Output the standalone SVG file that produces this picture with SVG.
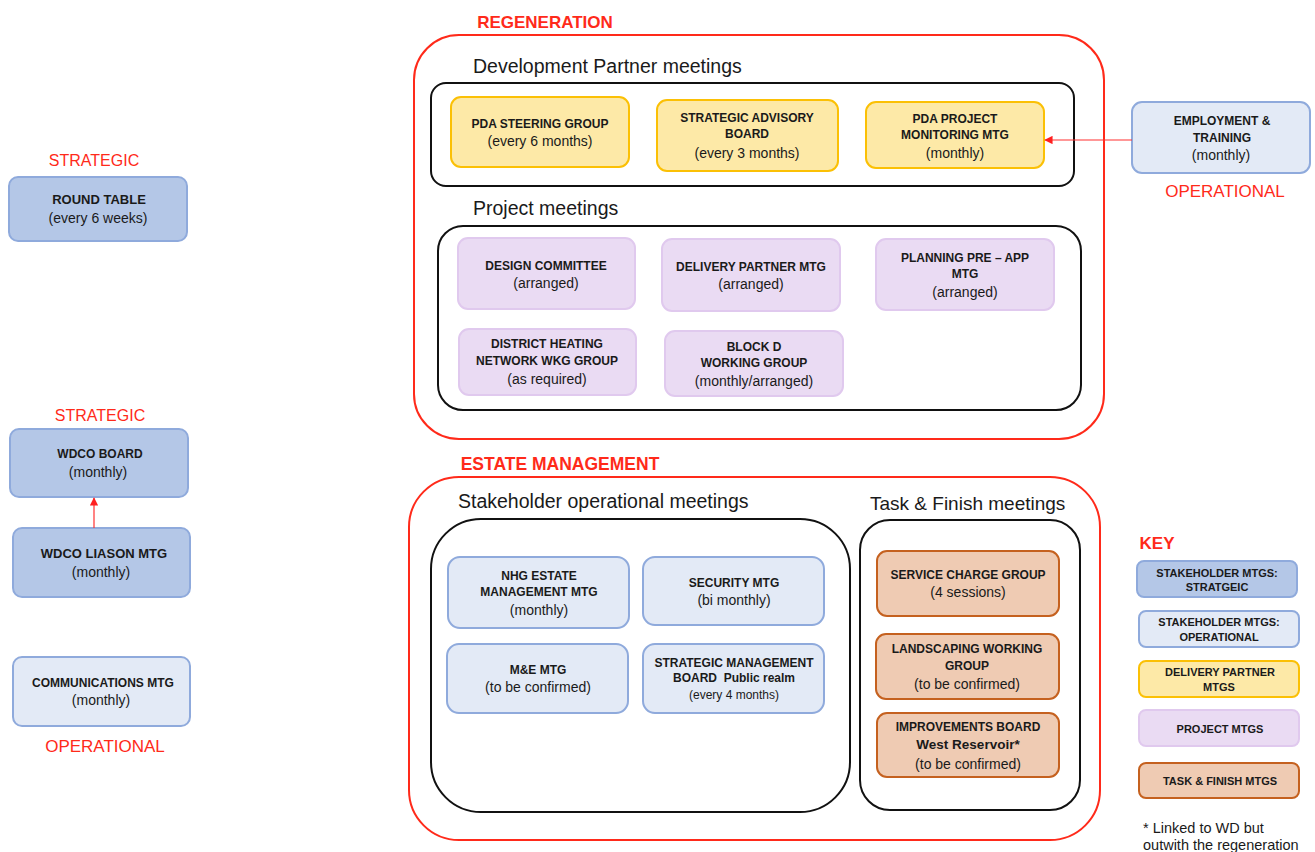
<svg xmlns="http://www.w3.org/2000/svg" width="1315" height="852" viewBox="0 0 1315 852">
  <style>
    text { font-family: "Liberation Sans", Arial, sans-serif; fill: #1a1a1a; text-anchor: middle; }
    .t { font-weight: bold; font-size: 12px; }
    .s { font-size: 14px; }
    .red { fill: #ff2a1a; }
    .sec { font-size: 19.5px; text-anchor: start; }
    .strat { fill: #b4c7e7; stroke: #8faadc; stroke-width: 2; }
    .oper { fill: #e3eaf6; stroke: #8faadc; stroke-width: 2; }
    .deliv { fill: #fde9a7; stroke: #fbc005; stroke-width: 2; }
    .proj { fill: #eadbf3; stroke: #e0c9ee; stroke-width: 2; }
    .task { fill: #efcbb3; stroke: #c5611f; stroke-width: 2; }
    .frame { fill: none; stroke: #ff2a1a; stroke-width: 2; }
    .group { fill: #ffffff; stroke: #111111; stroke-width: 2; }
    .link { stroke: #ff3030; stroke-width: 1.2; fill: none; }
  </style>
  <defs>
    <marker id="arrow" viewBox="0 0 10 10" refX="9" refY="5" markerWidth="7" markerHeight="7" orient="auto">
      <path d="M0,0 L10,5 L0,10 z" fill="#ff2020"/>
    </marker>
  </defs>

  <rect x="0" y="0" width="1315" height="852" fill="#ffffff"/>

  <!-- Section frames and headings -->
  <g id="regeneration">
    <text x="545" y="28" class="red" style="font-weight:bold;font-size:17px">REGENERATION</text>
    <rect x="414" y="35" width="690" height="404" rx="45" class="frame"/>
    <text x="473" y="73" class="sec">Development Partner meetings</text>
    <rect x="431" y="83" width="643" height="103" rx="15" class="group"/>
    <text x="473" y="215" class="sec">Project meetings</text>
    <rect x="438" y="226" width="643" height="184" rx="25" class="group"/>
  </g>

  <g id="estate-management">
    <text x="560" y="470" class="red" style="font-weight:bold;font-size:17.5px">ESTATE MANAGEMENT</text>
    <rect x="409" y="477" width="691" height="363" rx="50" class="frame"/>
    <text x="458" y="508" class="sec">Stakeholder operational meetings</text>
    <rect x="431" y="519" width="419" height="293" rx="50" class="group"/>
    <text x="870" y="510" class="sec" style="font-size:19px">Task &amp; Finish meetings</text>
    <rect x="860" y="520" width="220" height="290" rx="30" class="group"/>
  </g>

  <!-- Left column: stakeholder meetings -->
  <g id="round-table">
    <text x="94" y="166" class="red" style="font-size:16px">STRATEGIC</text>
    <rect x="9" y="177" width="178" height="64" rx="9" class="strat"/>
    <text x="99" y="204" class="t" style="font-size:13px">ROUND TABLE</text>
    <text x="98" y="223" class="s">(every 6 weeks)</text>
  </g>

  <g id="wdco-board">
    <text x="100" y="421" class="red" style="font-size:16px">STRATEGIC</text>
    <rect x="10" y="429" width="178" height="68" rx="9" class="strat"/>
    <text x="100" y="458" class="t">WDCO BOARD</text>
    <text x="98" y="477" class="s">(monthly)</text>
  </g>

  <g id="wdco-liason">
    <rect x="13" y="528" width="177" height="69" rx="9" class="strat"/>
    <text x="104" y="558" class="t" style="font-size:13px">WDCO LIASON MTG</text>
    <text x="101" y="577" class="s">(monthly)</text>
  </g>

  <g id="communications">
    <rect x="13" y="657" width="177" height="69" rx="9" class="oper"/>
    <text x="103" y="687" class="t">COMMUNICATIONS MTG</text>
    <text x="101" y="705" class="s">(monthly)</text>
    <text x="105" y="752" class="red" style="font-size:17px">OPERATIONAL</text>
  </g>

  <!-- Development partner meetings -->
  <g id="pda-steering">
    <rect x="451" y="97" width="178" height="70" rx="10" class="deliv"/>
    <text x="540" y="128" class="t">PDA STEERING GROUP</text>
    <text x="540" y="146" class="s">(every 6 months)</text>
  </g>
  <g id="strategic-advisory">
    <rect x="657" y="100" width="181" height="71" rx="10" class="deliv"/>
    <text x="747" y="122" class="t">STRATEGIC ADVISORY</text>
    <text x="747" y="138" class="t">BOARD</text>
    <text x="747" y="158" class="s">(every 3 months)</text>
  </g>
  <g id="pda-monitoring">
    <rect x="866" y="102" width="178" height="66" rx="10" class="deliv"/>
    <text x="955" y="123" class="t">PDA PROJECT</text>
    <text x="955" y="139" class="t">MONITORING MTG</text>
    <text x="955" y="158" class="s">(monthly)</text>
  </g>

  <g id="employment-training">
    <rect x="1132" y="102" width="178" height="71" rx="10" class="oper"/>
    <text x="1222" y="125" class="t">EMPLOYMENT &amp;</text>
    <text x="1222" y="142" class="t">TRAINING</text>
    <text x="1221" y="160" class="s">(monthly)</text>
    <text x="1225" y="197" class="red" style="font-size:17px">OPERATIONAL</text>
  </g>

  <!-- Project meetings -->
  <g id="design-committee">
    <rect x="458" y="238" width="177" height="71" rx="10" class="proj"/>
    <text x="546" y="270" class="t">DESIGN COMMITTEE</text>
    <text x="546" y="288" class="s">(arranged)</text>
  </g>
  <g id="delivery-partner">
    <rect x="662" y="239" width="178" height="72" rx="10" class="proj"/>
    <text x="751" y="271" class="t">DELIVERY PARTNER MTG</text>
    <text x="751" y="289" class="s">(arranged)</text>
  </g>
  <g id="planning-pre-app">
    <rect x="876" y="239" width="178" height="71" rx="10" class="proj"/>
    <text x="965" y="262" class="t">PLANNING PRE – APP</text>
    <text x="965" y="278" class="t">MTG</text>
    <text x="965" y="297" class="s">(arranged)</text>
  </g>
  <g id="district-heating">
    <rect x="459" y="329" width="177" height="66" rx="10" class="proj"/>
    <text x="547" y="348" class="t">DISTRICT HEATING</text>
    <text x="547" y="365" class="t">NETWORK WKG GROUP</text>
    <text x="547" y="384" class="s">(as required)</text>
  </g>
  <g id="block-d">
    <rect x="665" y="331" width="178" height="65" rx="10" class="proj"/>
    <text x="754" y="351" class="t">BLOCK D</text>
    <text x="754" y="367" class="t">WORKING GROUP</text>
    <text x="754" y="386" class="s">(monthly/arranged)</text>
  </g>

  <!-- Stakeholder operational meetings -->
  <g id="nhg-estate">
    <rect x="448" y="557" width="181" height="71" rx="12" class="oper"/>
    <text x="539" y="580" class="t">NHG ESTATE</text>
    <text x="539" y="596" class="t">MANAGEMENT MTG</text>
    <text x="539" y="615" class="s">(monthly)</text>
  </g>
  <g id="security">
    <rect x="643" y="557" width="181" height="68" rx="12" class="oper"/>
    <text x="734" y="587" class="t">SECURITY MTG</text>
    <text x="734" y="605" class="s">(bi monthly)</text>
  </g>
  <g id="m-and-e">
    <rect x="447" y="644" width="181" height="69" rx="12" class="oper"/>
    <text x="538" y="674" class="t">M&amp;E MTG</text>
    <text x="538" y="692" class="s">(to be confirmed)</text>
  </g>
  <g id="strategic-management">
    <rect x="643" y="644" width="181" height="69" rx="12" class="oper"/>
    <text x="734" y="667" class="t">STRATEGIC MANAGEMENT</text>
    <text x="734" y="682" class="t" xml:space="preserve">BOARD  Public realm</text>
    <text x="734" y="699" style="font-size:12px">(every 4 months)</text>
  </g>

  <!-- Task & finish meetings -->
  <g id="service-charge">
    <rect x="877" y="551" width="182" height="65" rx="10" class="task"/>
    <text x="968" y="579" class="t">SERVICE CHARGE GROUP</text>
    <text x="968" y="597" class="s">(4 sessions)</text>
  </g>
  <g id="landscaping">
    <rect x="876" y="634" width="183" height="65" rx="10" class="task"/>
    <text x="967" y="653" class="t">LANDSCAPING WORKING</text>
    <text x="967" y="670" class="t">GROUP</text>
    <text x="967" y="689" class="s">(to be confirmed)</text>
  </g>
  <g id="improvements-board">
    <rect x="877" y="713" width="182" height="64" rx="10" class="task"/>
    <text x="968" y="731" class="t">IMPROVEMENTS BOARD</text>
    <text x="968" y="749" class="t" style="font-size:13.5px">West Reservoir*</text>
    <text x="968" y="769" class="s">(to be confirmed)</text>
  </g>

  <!-- Key -->
  <g id="key">
    <text x="1157" y="549" class="red" style="font-weight:bold;font-size:17px">KEY</text>
    <rect x="1137" y="561" width="160" height="36" rx="7" class="strat"/>
    <text x="1217" y="577" class="t" style="font-size:11px">STAKEHOLDER MTGS:</text>
    <text x="1217" y="591" class="t" style="font-size:11px">STRATGEIC</text>
    <rect x="1139" y="611" width="160" height="36" rx="7" class="oper"/>
    <text x="1219" y="626" class="t" style="font-size:11px">STAKEHOLDER MTGS:</text>
    <text x="1219" y="641" class="t" style="font-size:11px">OPERATIONAL</text>
    <rect x="1139" y="661" width="160" height="36" rx="7" class="deliv"/>
    <text x="1220" y="676" class="t" style="font-size:11px">DELIVERY PARTNER</text>
    <text x="1219" y="691" class="t" style="font-size:11px">MTGS</text>
    <rect x="1139" y="710" width="160" height="36" rx="7" class="proj"/>
    <text x="1220" y="733" class="t" style="font-size:11px">PROJECT MTGS</text>
    <rect x="1139" y="763" width="160" height="35" rx="7" class="task"/>
    <text x="1220" y="785" class="t" style="font-size:11px">TASK &amp; FINISH MTGS</text>
    <text x="1143" y="833" style="font-size:14.5px;text-anchor:start">* Linked to WD but</text>
    <text x="1143" y="850" style="font-size:14.5px;text-anchor:start">outwith the regeneration</text>
  </g>

  <!-- Connectors -->
  <g id="connectors">
    <line x1="94" y1="528" x2="94" y2="498" class="link" marker-end="url(#arrow)"/>
    <line x1="1132" y1="140" x2="1045" y2="140" class="link" marker-end="url(#arrow)"/>
  </g>
</svg>
